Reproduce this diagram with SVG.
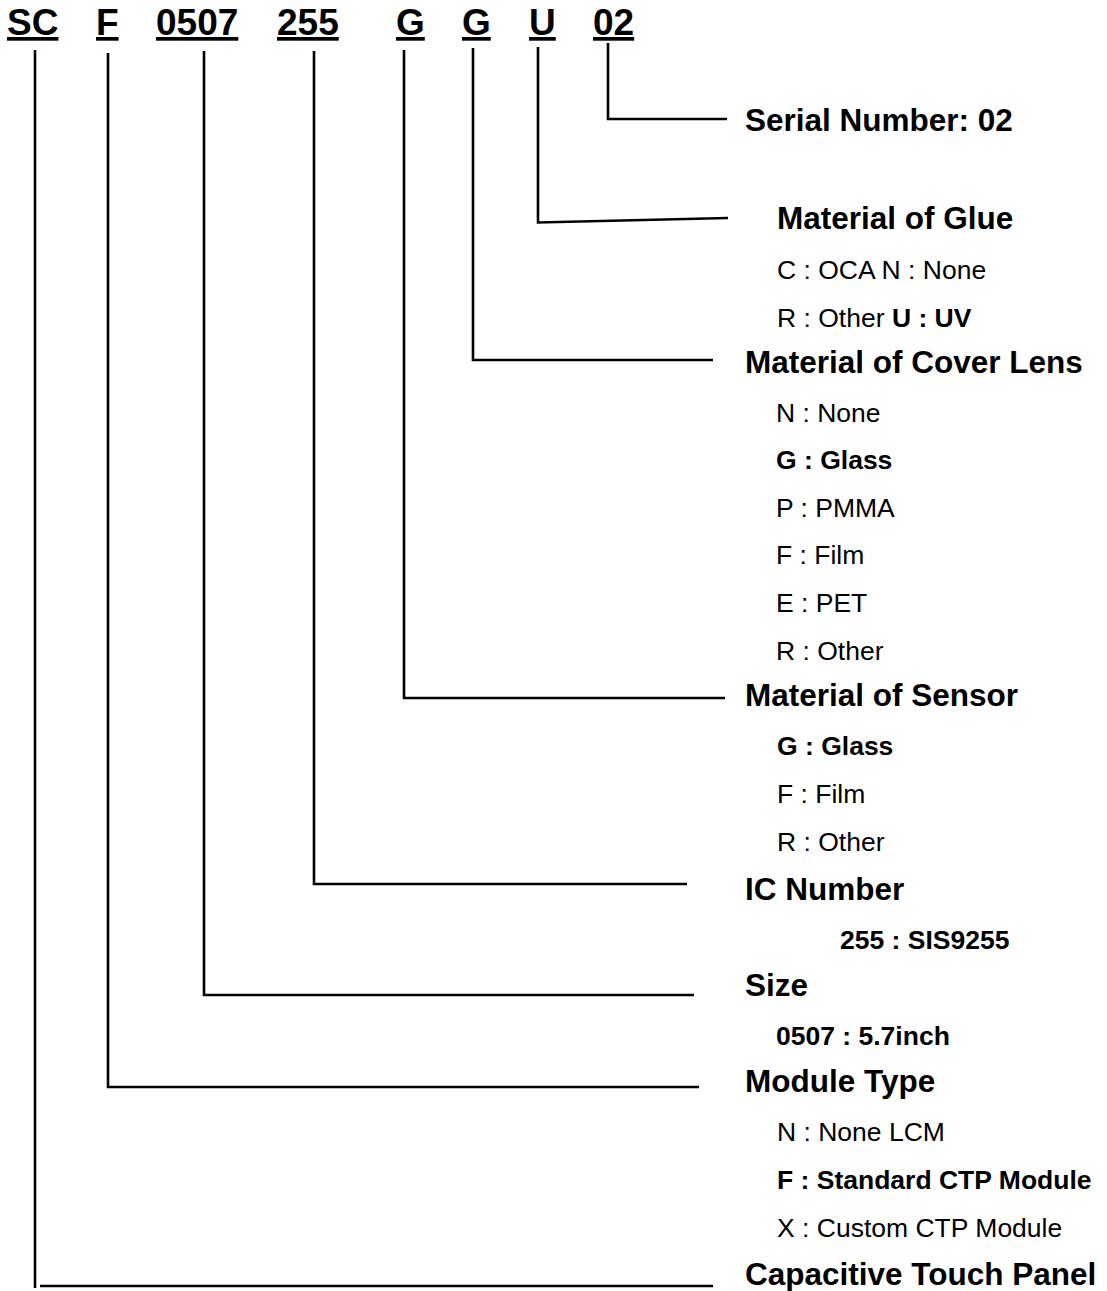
<svg xmlns="http://www.w3.org/2000/svg" width="1107" height="1291" viewBox="0 0 1107 1291">
<style>
  .code { font-family: "Liberation Sans", Arial, sans-serif; font-size: 37px; font-weight: bold; text-decoration: underline; fill: #000; }
  .head { font-family: "Liberation Sans", Arial, sans-serif; font-size: 31.5px; font-weight: bold; fill: #000; }
  .item { font-family: "Liberation Sans", Arial, sans-serif; font-size: 26.5px; fill: #000; }
  .b { font-weight: bold; }
  .conn { fill: none; stroke: #000; stroke-width: 2.6; stroke-linejoin: miter; stroke-linecap: butt; }
</style>
<rect x="0" y="0" width="1107" height="1291" fill="#fff"/>

<g id="code">
  <text id="code-sc" class="code" x="7" y="35">SC</text>
  <text id="code-f" class="code" x="96" y="35">F</text>
  <text id="code-size" class="code" x="156" y="35">0507</text>
  <text id="code-ic" class="code" x="277" y="35">255</text>
  <text id="code-sensor" class="code" x="396" y="35">G</text>
  <text id="code-cover" class="code" x="462" y="35">G</text>
  <text id="code-glue" class="code" x="529" y="35">U</text>
  <text id="code-serial" class="code" x="593" y="35">02</text>
</g>

<g id="connectors">
  <polyline class="conn" points="608,43 608,119 727,119"/>
  <polyline class="conn" points="538,47 538,222.5 728,218"/>
  <polyline class="conn" points="473,48 473,360 713,360"/>
  <polyline class="conn" points="404,50 404,698 725,698"/>
  <polyline class="conn" points="314,51 314,884 687,884"/>
  <polyline class="conn" points="204,51 204,995 694,995"/>
  <polyline class="conn" points="108,53 108,1087 699,1087"/>
  <line class="conn" x1="35" y1="50" x2="35" y2="1288"/>
  <line class="conn" x1="40" y1="1286" x2="713" y2="1286"/>
</g>

<g id="serial">
  <text class="head" x="745" y="131">Serial Number: 02</text>
</g>

<g id="glue">
  <text class="head" x="777" y="229">Material of Glue</text>
  <text class="item" x="777" y="279">C : OCA N : None</text>
  <text class="item" x="777" y="327">R : Other <tspan class="b">U : UV</tspan></text>
</g>

<g id="cover">
  <text class="head" x="745" y="373">Material of Cover Lens</text>
  <text class="item" x="776" y="422">N : None</text>
  <text class="item b" x="776" y="469">G : Glass</text>
  <text class="item" x="776" y="517">P : PMMA</text>
  <text class="item" x="776" y="564">F : Film</text>
  <text class="item" x="776" y="612">E : PET</text>
  <text class="item" x="776" y="660">R : Other</text>
</g>

<g id="sensor">
  <text class="head" x="745" y="706">Material of Sensor</text>
  <text class="item b" x="777" y="755">G : Glass</text>
  <text class="item" x="777" y="803">F : Film</text>
  <text class="item" x="777" y="851">R : Other</text>
</g>

<g id="ic">
  <text class="head" x="745" y="900">IC Number</text>
  <text class="item b" x="840" y="949">255 : SIS9255</text>
</g>

<g id="size">
  <text class="head" x="745" y="996">Size</text>
  <text class="item b" x="776" y="1045">0507 : 5.7inch</text>
</g>

<g id="module">
  <text class="head" x="745" y="1092">Module Type</text>
  <text class="item" x="777" y="1141">N : None LCM</text>
  <text class="item b" x="777" y="1189">F : Standard CTP Module</text>
  <text class="item" x="777" y="1237">X : Custom CTP Module</text>
</g>

<g id="ctp">
  <text class="head" x="745" y="1285">Capacitive Touch Panel</text>
</g>
</svg>
